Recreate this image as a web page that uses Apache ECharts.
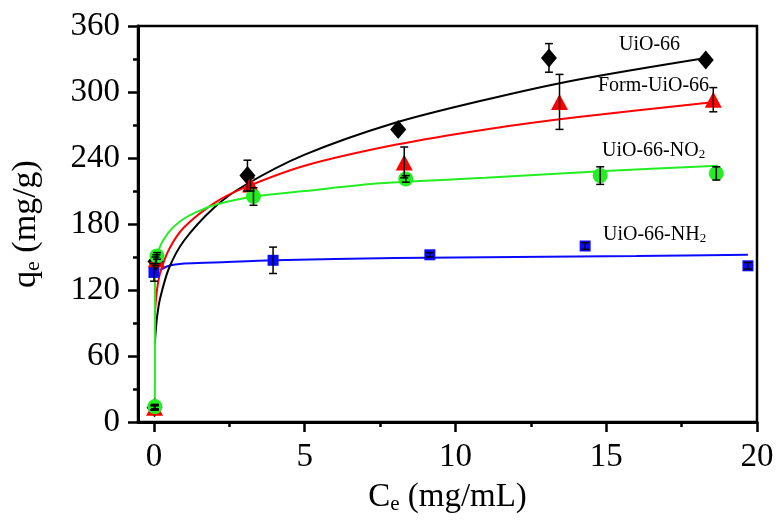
<!DOCTYPE html>
<html>
<head>
<meta charset="utf-8">
<script src="https://cdn.jsdelivr.net/npm/echarts@6/dist/echarts.min.js"></script>
<style>
html, body { margin: 0; padding: 0; background: #fff; }
#chart { width: 777px; height: 521px; }
</style>
</head>
<body>
<div id="chart"></div>
<script>
// measured points (Ce, qe, error)
const uioX = [0.02, 0.05, 3.1, 8.1, 13.1, 18.3];
const uioY = [13, 146, 224, 266, 331, 329];
const uioErr = [2, 4, 14, 3, 13, 3];

const formX = [0.02, 0.08, 3.2, 8.3, 13.45, 18.55];
const formY = [13, 148, 216, 236, 291, 293];
const formErr = [2, 4, 6, 14, 25, 11];

const no2X = [0.03, 0.1, 3.3, 8.35, 14.8, 18.65];
const no2Y = [14, 151, 205, 221, 224, 226];
const no2Err = [2, 3, 8, 3, 8, 6];

const nh2X = [0.02, 0.0, 3.95, 9.15, 14.3, 19.7];
const nh2Y = [13, 136, 147, 152, 160, 142];
const nh2Err = [2, 8, 12, 2, 3, 3];

// fitted curves
const uioFitX = [0.03, 0.05, 0.1, 0.2, 0.5, 1, 2, 3, 5, 8, 11, 14, 18.3];
const uioFitY = [71, 80, 95, 112, 140, 165, 195, 215, 243, 272, 293, 311, 331];
const formFitX = [0.03, 0.05, 0.1, 0.2, 0.5, 1, 2, 3, 5, 8, 11, 14, 18.6];
const formFitY = [97, 106, 120, 135, 157, 177, 199, 213, 233, 252, 266, 277, 291];
const no2FitX = [0.03, 0.035, 0.1, 0.3, 0.6, 1, 1.5, 2.1, 3.3, 5, 7.5, 11, 14.8, 18.7];
const no2FitY = [14, 150, 153, 165, 176, 185, 192, 198, 205, 210, 217, 222, 228, 233];
const nh2FitX = [0.2, 0.5, 1, 2, 4, 8, 12, 16, 19.7];
const nh2FitY = [138, 142, 144, 145, 147, 149, 150, 151, 152];

const xMajor = [0, 5, 10, 15, 20];
const xMinor = [2.5, 7.5, 12.5, 17.5];

const FONT = 'Liberation Serif';
const BLACK = '#000';
const RED = '#ff0000';
const GREEN = '#22ee22';
const BLUE = '#0a0aff';

function zip(xs, ys) {
    return xs.map((x, i) => [x, ys[i]]);
}

function errData(xs, ys, es) {
    return xs.map((x, i) => [x, ys[i] - es[i], ys[i] + es[i]]);
}

function errorBars(xs, ys, es) {
    return {
        type: 'custom',
        z: 5,
        silent: true,
        data: errData(xs, ys, es),
        renderItem(params, api) {
            const lo = api.coord([api.value(0), api.value(1)]);
            const hi = api.coord([api.value(0), api.value(2)]);
            const w = 4;
            const st = { stroke: BLACK, lineWidth: 1.5 };
            return {
                type: 'group',
                children: [
                    { type: 'line', shape: { x1: lo[0], y1: lo[1], x2: hi[0], y2: hi[1] }, style: st },
                    { type: 'line', shape: { x1: lo[0] - w, y1: lo[1], x2: lo[0] + w, y2: lo[1] }, style: st },
                    { type: 'line', shape: { x1: hi[0] - w, y1: hi[1], x2: hi[0] + w, y2: hi[1] }, style: st }
                ]
            };
        }
    };
}

function fitLine(xs, ys, color) {
    return {
        type: 'line',
        data: zip(xs, ys),
        smooth: 0.3,
        showSymbol: false,
        silent: true,
        z: 2,
        lineStyle: { color: color, width: 2 }
    };
}

function points(xs, ys, color, symbol, size) {
    return {
        type: 'scatter',
        data: zip(xs, ys),
        symbol: symbol,
        symbolSize: size,
        z: 3,
        itemStyle: { color: color, opacity: 1 }
    };
}

const chart = echarts.init(document.getElementById('chart'));

const labelStyle = { fontFamily: FONT, fontSize: 20, fill: BLACK };
const subRich = {
    n: { fontFamily: FONT, fontSize: 20, color: BLACK },
    s: { fontFamily: FONT, fontSize: 13, color: BLACK, verticalAlign: 'bottom', padding: [8, 0, 0, 0] }
};

let option = {
    animation: false,
    backgroundColor: '#fff',
    grid: {
        left: 138, right: 20, top: 26, bottom: 99,
        show: true, borderColor: BLACK, borderWidth: 2.5, backgroundColor: 'transparent'
    },
    xAxis: [{
        type: 'value',
        min: -0.53,
        max: 20,
        splitLine: { show: false },
        axisLine: { show: true, onZero: false, lineStyle: { color: BLACK, width: 3 } },
        axisTick: { show: true, customValues: xMajor, length: 10, lineStyle: { color: BLACK, width: 2.5 } },
        axisLabel: { customValues: xMajor, margin: 19, fontFamily: FONT, fontSize: 33, color: BLACK },
        name: '{n|C}{s|e}{n| (mg/mL)}',
        nameLocation: 'middle',
        nameGap: 58,
        nameTextStyle: {
            rich: {
                n: { fontFamily: FONT, fontSize: 33, color: BLACK },
                s: { fontFamily: FONT, fontSize: 21, color: BLACK, verticalAlign: 'bottom', padding: [14, 0, 0, 0] }
            }
        }
    }, {
        type: 'value',
        min: -0.53,
        max: 20,
        position: 'bottom',
        splitLine: { show: false },
        axisLine: { show: false, onZero: false },
        axisTick: { show: true, customValues: xMinor, length: 5, lineStyle: { color: BLACK, width: 2.5 } },
        axisLabel: { show: false }
    }],
    yAxis: {
        type: 'value',
        min: 0,
        max: 360,
        interval: 60,
        splitLine: { show: false },
        axisLine: { show: true, onZero: false, lineStyle: { color: BLACK, width: 3 } },
        axisTick: { show: true, length: 10, lineStyle: { color: BLACK, width: 2.5 } },
        minorTick: { show: true, splitNumber: 2, length: 5, lineStyle: { color: BLACK, width: 2.5 } },
        axisLabel: { margin: 18, fontFamily: FONT, fontSize: 33, color: BLACK },
        name: '{n|q}{s|e}{n| (mg/g)}',
        nameLocation: 'middle',
        nameRotate: 90,
        nameGap: 94,
        nameTextStyle: {
            rich: {
                n: { fontFamily: FONT, fontSize: 34, color: BLACK },
                s: { fontFamily: FONT, fontSize: 22, color: BLACK, verticalAlign: 'bottom', padding: [14, 0, 0, 0] }
            }
        }
    },
    graphic: [
        { type: 'text', left: 619, top: 35, style: Object.assign({ text: 'UiO-66' }, labelStyle) },
        { type: 'text', left: 598, top: 76, style: Object.assign({ text: 'Form-UiO-66' }, labelStyle) },
        { type: 'text', left: 602, top: 141, style: { text: '{n|UiO-66-NO}{s|2}', rich: subRich } },
        { type: 'text', left: 603, top: 225, style: { text: '{n|UiO-66-NH}{s|2}', rich: subRich } }
    ],
    series: [
        fitLine(nh2FitX, nh2FitY, BLUE),
        fitLine(uioFitX, uioFitY, BLACK),
        fitLine(formFitX, formFitY, RED),
        fitLine(no2FitX, no2FitY, GREEN),
        points(nh2X, nh2Y, BLUE, 'rect', 11),
        points(uioX, uioY, BLACK, 'diamond', [16, 19]),
        points(formX, formY, RED, 'triangle', [17, 16]),
        points(no2X, no2Y, GREEN, 'circle', 15),
        errorBars(uioX, uioY, uioErr),
        errorBars(formX, formY, formErr),
        errorBars(no2X, no2Y, no2Err),
        errorBars(nh2X, nh2Y, nh2Err)
    ]
};
chart.setOption(option);
</script>
</body>
</html>
